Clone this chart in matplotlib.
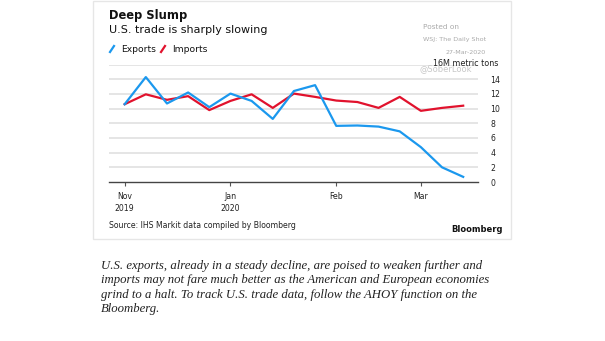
import numpy as np
import matplotlib.pyplot as plt
from matplotlib.lines import Line2D
from matplotlib.patches import Rectangle

# weekly values, million metric tons
exports = [10.6, 14.3, 10.7, 12.2, 10.2, 12.05, 11.05, 8.6, 12.4, 13.2,
           7.65, 7.7, 7.55, 6.9, 4.75, 2.0, 0.7]
imports = [10.6, 11.95, 11.2, 11.7, 9.8, 11.05, 11.95, 10.1, 12.05, 11.6,
           11.1, 10.9, 10.1, 11.6, 9.7, 10.1, 10.4]
week = np.arange(len(exports))

xtick_pos = [0, 5, 10, 14]
xtick_labels = ['Nov\n2019', 'Jan\n2020', 'Feb', 'Mar']
ytick_vals = [0, 2, 4, 6, 8, 10, 12, 14]

blue = '#1b98ee'
red = '#e1122d'

W, H = 605, 341
fig = plt.figure(figsize=(W / 100, H / 100), dpi=100)

def fx(px):
    return px / W

def fy(py):
    return 1 - py / H

# card frame
fig.patches.append(Rectangle((fx(93), fy(239)), fx(511) - fx(93), fy(1) - fy(239),
                             transform=fig.transFigure, fill=False,
                             edgecolor='#e6e6e6', linewidth=1))

ax = fig.add_axes([fx(109), fy(182), fx(478) - fx(109), fy(64.6) - fy(182)])
ax.plot(week, imports, color=red, linewidth=1.6, zorder=3)
ax.plot(week, exports, color=blue, linewidth=1.6, zorder=4)

ax.set_xlim(-0.74, 16.7)
ax.set_ylim(0, 16)
for s in ['top', 'left', 'right']:
    ax.spines[s].set_visible(False)
ax.spines['bottom'].set_color('#444444')
ax.spines['bottom'].set_linewidth(1)

ax.yaxis.tick_right()
ax.set_yticks(ytick_vals)
ax.set_yticklabels([str(v) for v in ytick_vals], fontsize=5.6, color='#222222')
ax.tick_params(axis='y', length=0, pad=9)
for v in ytick_vals[1:] + [16]:
    ax.axhline(v, color='#e3e3e3', linewidth=1.3, zorder=1)

ax.set_xticks(xtick_pos)
ax.set_xticklabels(xtick_labels, fontsize=5.6, color='#222222', linespacing=1.5)
ax.tick_params(axis='x', length=3, width=0.8, color='#555555', pad=4)

# titles and notes
fig.text(fx(109), fy(16), 'Deep Slump', fontsize=8.3, fontweight='bold',
         color='#111111', va='center')
fig.text(fx(109), fy(30), 'U.S. trade is sharply slowing', fontsize=8,
         color='#111111', va='center')

# legend
fig.lines.append(Line2D([fx(110), fx(114)], [fy(52), fy(46)], transform=fig.transFigure,
                        color=blue, linewidth=1.6))
fig.text(fx(121), fy(49), 'Exports', fontsize=6.6, color='#111111', va='center')
fig.lines.append(Line2D([fx(161), fx(165)], [fy(52), fy(46)], transform=fig.transFigure,
                        color=red, linewidth=1.6))
fig.text(fx(172), fy(49), 'Imports', fontsize=6.6, color='#111111', va='center')

fig.text(fx(423), fy(27), 'Posted on', fontsize=5.3, color='#aaaaaa', va='center')
fig.text(fx(423), fy(40), 'WSJ: The Daily Shot', fontsize=4.6, color='#aaaaaa', va='center')
fig.text(fx(486), fy(52), '27-Mar-2020', fontsize=4.6, color='#aaaaaa', va='center', ha='right')
fig.text(fx(420), fy(69), '@SoberLook', fontsize=6, color='#c8c8c8', va='center')
fig.text(fx(498), fy(63.5), '16M metric tons', fontsize=5.8, color='#222222',
         va='center', ha='right')

fig.text(fx(109), fy(225), 'Source: IHS Markit data compiled by Bloomberg', fontsize=5.6,
         color='#222222', va='center')
fig.text(fx(503), fy(230), 'Bloomberg', fontsize=6, fontweight='bold',
         color='#111111', va='center', ha='right')

caption = ('U.S. exports, already in a steady decline, are poised to weaken further and\n'
           'imports may not fare much better as the American and European economies\n'
           'grind to a halt. To track U.S. trade data, follow the AHOY function on the\n'
           'Bloomberg.')
fig.text(fx(101), fy(260), caption, fontsize=9.2, family='Liberation Serif',
         style='italic', color='#222222', va='top', linespacing=1.26)

fig.savefig('out.png', dpi=100)
